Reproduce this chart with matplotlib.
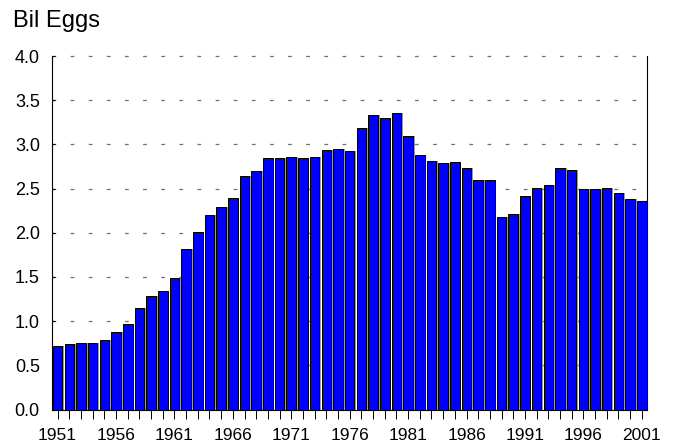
import numpy as np
import matplotlib
matplotlib.use('Agg')
import matplotlib.pyplot as plt
from matplotlib.ticker import MultipleLocator, FixedLocator

plt.rcParams['font.family'] = ['Liberation Sans', 'DejaVu Sans']

# Data (billion eggs per year)
years = np.arange(1951, 2002)
eggs = [0.72, 0.74, 0.75, 0.75, 0.79, 0.88, 0.97, 1.15, 1.28, 1.34,
        1.49, 1.82, 2.01, 2.20, 2.29, 2.39, 2.64, 2.70, 2.85, 2.85,
        2.86, 2.85, 2.86, 2.94, 2.95, 2.92, 3.18, 3.33, 3.30, 3.35,
        3.10, 2.88, 2.81, 2.79, 2.80, 2.73, 2.60, 2.60, 2.18, 2.21,
        2.42, 2.51, 2.54, 2.73, 2.71, 2.49, 2.50, 2.51, 2.45, 2.38,
        2.36]
label_years = [1951, 1956, 1961, 1966, 1971, 1976, 1981, 1986, 1991, 1996, 2001]
y_ticks = [0.0, 0.5, 1.0, 1.5, 2.0, 2.5, 3.0, 3.5, 4.0]

fig = plt.figure(figsize=(6.8, 4.47), dpi=100)
ax = fig.add_axes([0.077, 0.0837, 0.875, 0.791])

# grey drop shadow behind each bar, then the blue bars
ax.bar(years + 0.15, eggs, width=0.82, color='#9a9a9a', zorder=2)
ax.bar(years, eggs, width=0.82, color='#0000ff', edgecolor='black',
       linewidth=0.7, zorder=3)

ax.set_xlim(1950.55, 2001.48)
ax.set_ylim(0, 4.0)

# dashed horizontal grid lines
for v in y_ticks[1:]:
    ax.axhline(v, color='#707070', linewidth=0.9, dashes=(3, 11.5),
               zorder=1, clip_on=False)

ax.spines['top'].set_visible(False)
for s in ['left', 'right', 'bottom']:
    ax.spines[s].set_linewidth(0.8)
    ax.spines[s].set_zorder(4)

ax.xaxis.set_major_locator(FixedLocator(label_years))
ax.xaxis.set_minor_locator(MultipleLocator(1))
ax.set_xticklabels([str(y) for y in label_years])
ax.tick_params(axis='x', which='both', direction='out', length=6.5,
               width=0.7, pad=7, labelsize=12.5)

ax.set_yticks(y_ticks)
ax.set_yticklabels([f'{v:.1f}' for v in y_ticks])
ax.tick_params(axis='y', direction='in', length=2.5, width=0.8,
               pad=9, labelsize=13)

fig.text(0.019, 0.94, 'Bil Eggs', fontsize=17, ha='left', va='baseline')

fig.savefig('out.png', dpi=100)
